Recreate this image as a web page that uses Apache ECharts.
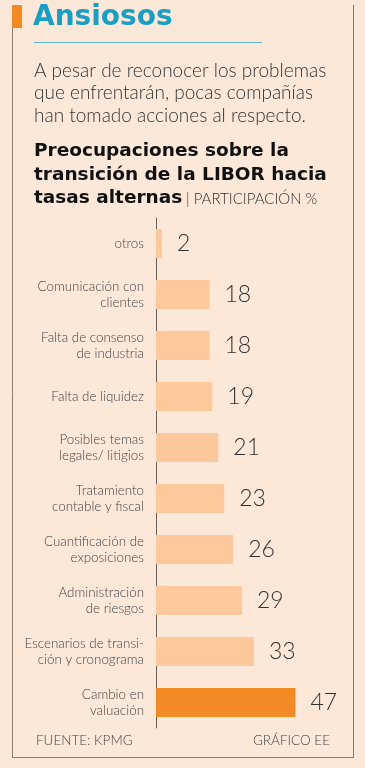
<!DOCTYPE html>
<html><head><meta charset="utf-8">
<script src="https://cdn.jsdelivr.net/npm/echarts@6/dist/echarts.min.js"></script>
<style>html,body{margin:0;padding:0;background:#fce8d9;}#c{width:365px;height:768px;}</style>
</head><body><div id="c"></div>
<script>
const categories = ['otros','Comunicación con\nclientes','Falta de consenso\nde industria','Falta de liquidez','Posibles temas\nlegales/ litigios','Tratamiento\ncontable y fiscal','Cuantificación de\nexposiciones','Administración\nde riesgos','Escenarios de transi-\nción y cronograma','Cambio en\nvaluación'];
const values = [2,18,18,19,21,23,26,29,33,47];
const highlight = 'Cambio en\nvaluación';
const titleText = 'Ansiosos';
const subtitleLines = ['A pesar de reconocer los problemas','que enfrentarán, pocas compañías','han tomado acciones al respecto.'];
const chartTitleLines = ['Preocupaciones sobre la','transición de la LIBOR hacia','tasas alternas'];
const unitText = '| PARTICIPACIÓN %';
const sourceText = 'FUENTE: KPMG';
const creditText = 'GRÁFICO EE';

const LIGHT = 'Lato';
const BOLD = '"DejaVu Sans"';
const chart = echarts.init(document.getElementById('c'), null, {renderer:'canvas'});
const textEls = [];
subtitleLines.forEach((t,i)=>textEls.push({type:'text',left:34,top:61+i*22.5,style:{text:t,font:'300 19px '+LIGHT,fill:'#333'}}));
chartTitleLines.forEach((t,i)=>textEls.push({type:'text',left:34,top:142+i*23.5,style:{text:t,font:'bold 18.5px '+BOLD,fill:'#111'}}));
chart.setOption({
  backgroundColor:'#fce8d9',
  animation:false,
  grid:{left:156,top:218,width:178,height:510,containLabel:false},
  xAxis:{type:'value',min:0,max:60,show:false},
  yAxis:{type:'category',data:categories,inverse:true,
    axisLine:{show:true,lineStyle:{color:'#6a6058',width:1}},
    axisTick:{show:false},
    axisLabel:{margin:12,fontFamily:LIGHT,fontWeight:300,fontSize:13.4,lineHeight:16.5,color:'#444',align:'right'}},
  series:[{type:'bar',barWidth:29,
    data:values.map((v,i)=>({value:v,itemStyle:{color:categories[i]===highlight?'#f28b24':'#fdc89c'}})),
    label:{show:true,position:'right',distance:15,fontFamily:LIGHT,fontWeight:300,fontSize:23,color:'#333'}}],
  graphic:[
    {type:'rect',shape:{x:12,y:5,width:10,height:23},style:{fill:'#f28b24'}},
    {type:'line',shape:{x1:12.5,y1:28,x2:12.5,y2:757},style:{stroke:'#8a7a70',lineWidth:1}},
    {type:'line',shape:{x1:353.5,y1:5,x2:353.5,y2:757},style:{stroke:'#8a7a70',lineWidth:1}},
    {type:'line',shape:{x1:12,y1:757.5,x2:354,y2:757.5},style:{stroke:'#8a7a70',lineWidth:1}},
    {type:'text',left:33,top:4,style:{text:titleText,font:'bold 28px '+BOLD,fill:'#1b9ec4'}},
    {type:'line',shape:{x1:34,y1:42.5,x2:262,y2:42.5},style:{stroke:'#5fb6cc',lineWidth:1}},
    ...textEls,
    {type:'text',left:186,top:192,style:{text:unitText,font:'300 15px '+LIGHT,fill:'#333'}},
    {type:'text',left:36,top:734,style:{text:sourceText,font:'300 13.5px '+LIGHT,fill:'#444'}},
    {type:'text',right:35,top:734,style:{text:creditText,font:'300 13.5px '+LIGHT,fill:'#444'}}
  ]
});
</script></body></html>
